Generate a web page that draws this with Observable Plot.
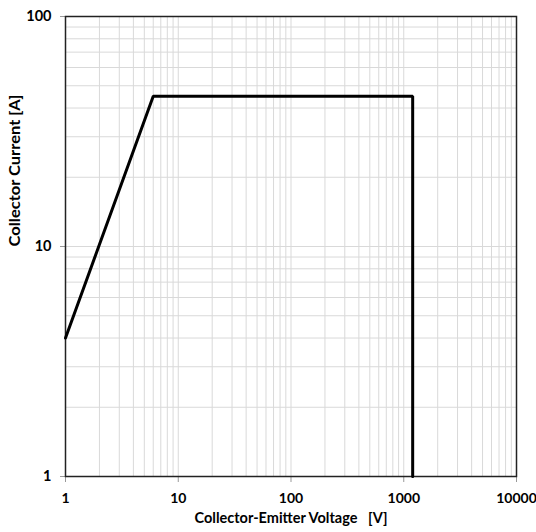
<!DOCTYPE html>
<html>
<head>
<meta charset="utf-8">
<script src="https://cdn.jsdelivr.net/npm/d3@7"></script>
<script src="https://cdn.jsdelivr.net/npm/@observablehq/plot@0.6"></script>
<style>
  html, body { margin: 0; padding: 0; background: #fff; }
  #chart svg { display: block; }
</style>
</head>
<body>
<div id="chart"></div>
<script>
// Safe operating area boundary (log-log)
const voltage = [1, 6, 1200, 1200];   // V
const current = [4, 45, 45, 1];       // A

const xTickValues = [1, 10, 100, 1000, 10000];
const xTickLabels = ["1", "10", "100", "1000", "10000"];
const yTickValues = [1, 10, 100];
const yTickLabels = ["1", "10", "100"];

const xDomain = [1, 10000];
const yDomain = [1, 100];

const boundary = voltage.map((v, i) => ({v, i: current[i]}));

// Grid lines at every 1..9 step of each decade
const xGrid = d3.scaleLog().domain(xDomain).ticks();
const yGrid = d3.scaleLog().domain(yDomain).ticks();

const font = "Lato, 'Open Sans', sans-serif";

const chart = Plot.plot({
  width: 536,
  height: 532,
  marginLeft: 65,
  marginRight: 20,
  marginTop: 16,
  marginBottom: 56,
  style: {fontFamily: font, fontWeight: "bold", fontSize: "14px", color: "#000", background: "#fff"},
  x: {type: "log", domain: xDomain},
  y: {type: "log", domain: yDomain},
  marks: [
    Plot.ruleX(xGrid, {stroke: "#d9d9d9", strokeWidth: 1}),
    Plot.ruleY(yGrid, {stroke: "#d9d9d9", strokeWidth: 1}),
    Plot.axisX({
      ticks: xTickValues,
      tickFormat: (d) => xTickLabels[xTickValues.indexOf(d)],
      tickSize: 6,
      tickPadding: 11,
      stroke: "#999",
      fill: "#000",
      fontSize: 14,
      fontWeight: "bold",
      label: null
    }),
    Plot.axisY({
      ticks: yTickValues,
      tickFormat: (d) => yTickLabels[yTickValues.indexOf(d)],
      tickSize: 5,
      tickPadding: 9,
      stroke: "#999",
      fill: "#000",
      fontSize: 14.5,
      fontWeight: "bold",
      label: null
    }),
    Plot.text(["Collector-Emitter Voltage   [V]"], {
      frameAnchor: "bottom", dy: 46, fontSize: 14.5, fontWeight: "bold", fill: "#000", lineAnchor: "bottom"
    }),
    Plot.text(["Collector Current [A]"], {
      frameAnchor: "left", dx: -50, rotate: -90, fontSize: 15, fontWeight: "bold", fill: "#000",
      className: "ylabel"
    }),
    Plot.frame({stroke: "#222", strokeWidth: 1.5}),
    Plot.line(boundary, {x: "v", y: "i", stroke: "#000", strokeWidth: 3, strokeLinejoin: "miter"})
  ]
});

// Stretch the vertical axis title along its length
d3.select(chart).selectAll(".ylabel text")
  .attr("textLength", 152)
  .attr("lengthAdjust", "spacingAndGlyphs");

document.getElementById("chart").appendChild(chart);
</script>
</body>
</html>
